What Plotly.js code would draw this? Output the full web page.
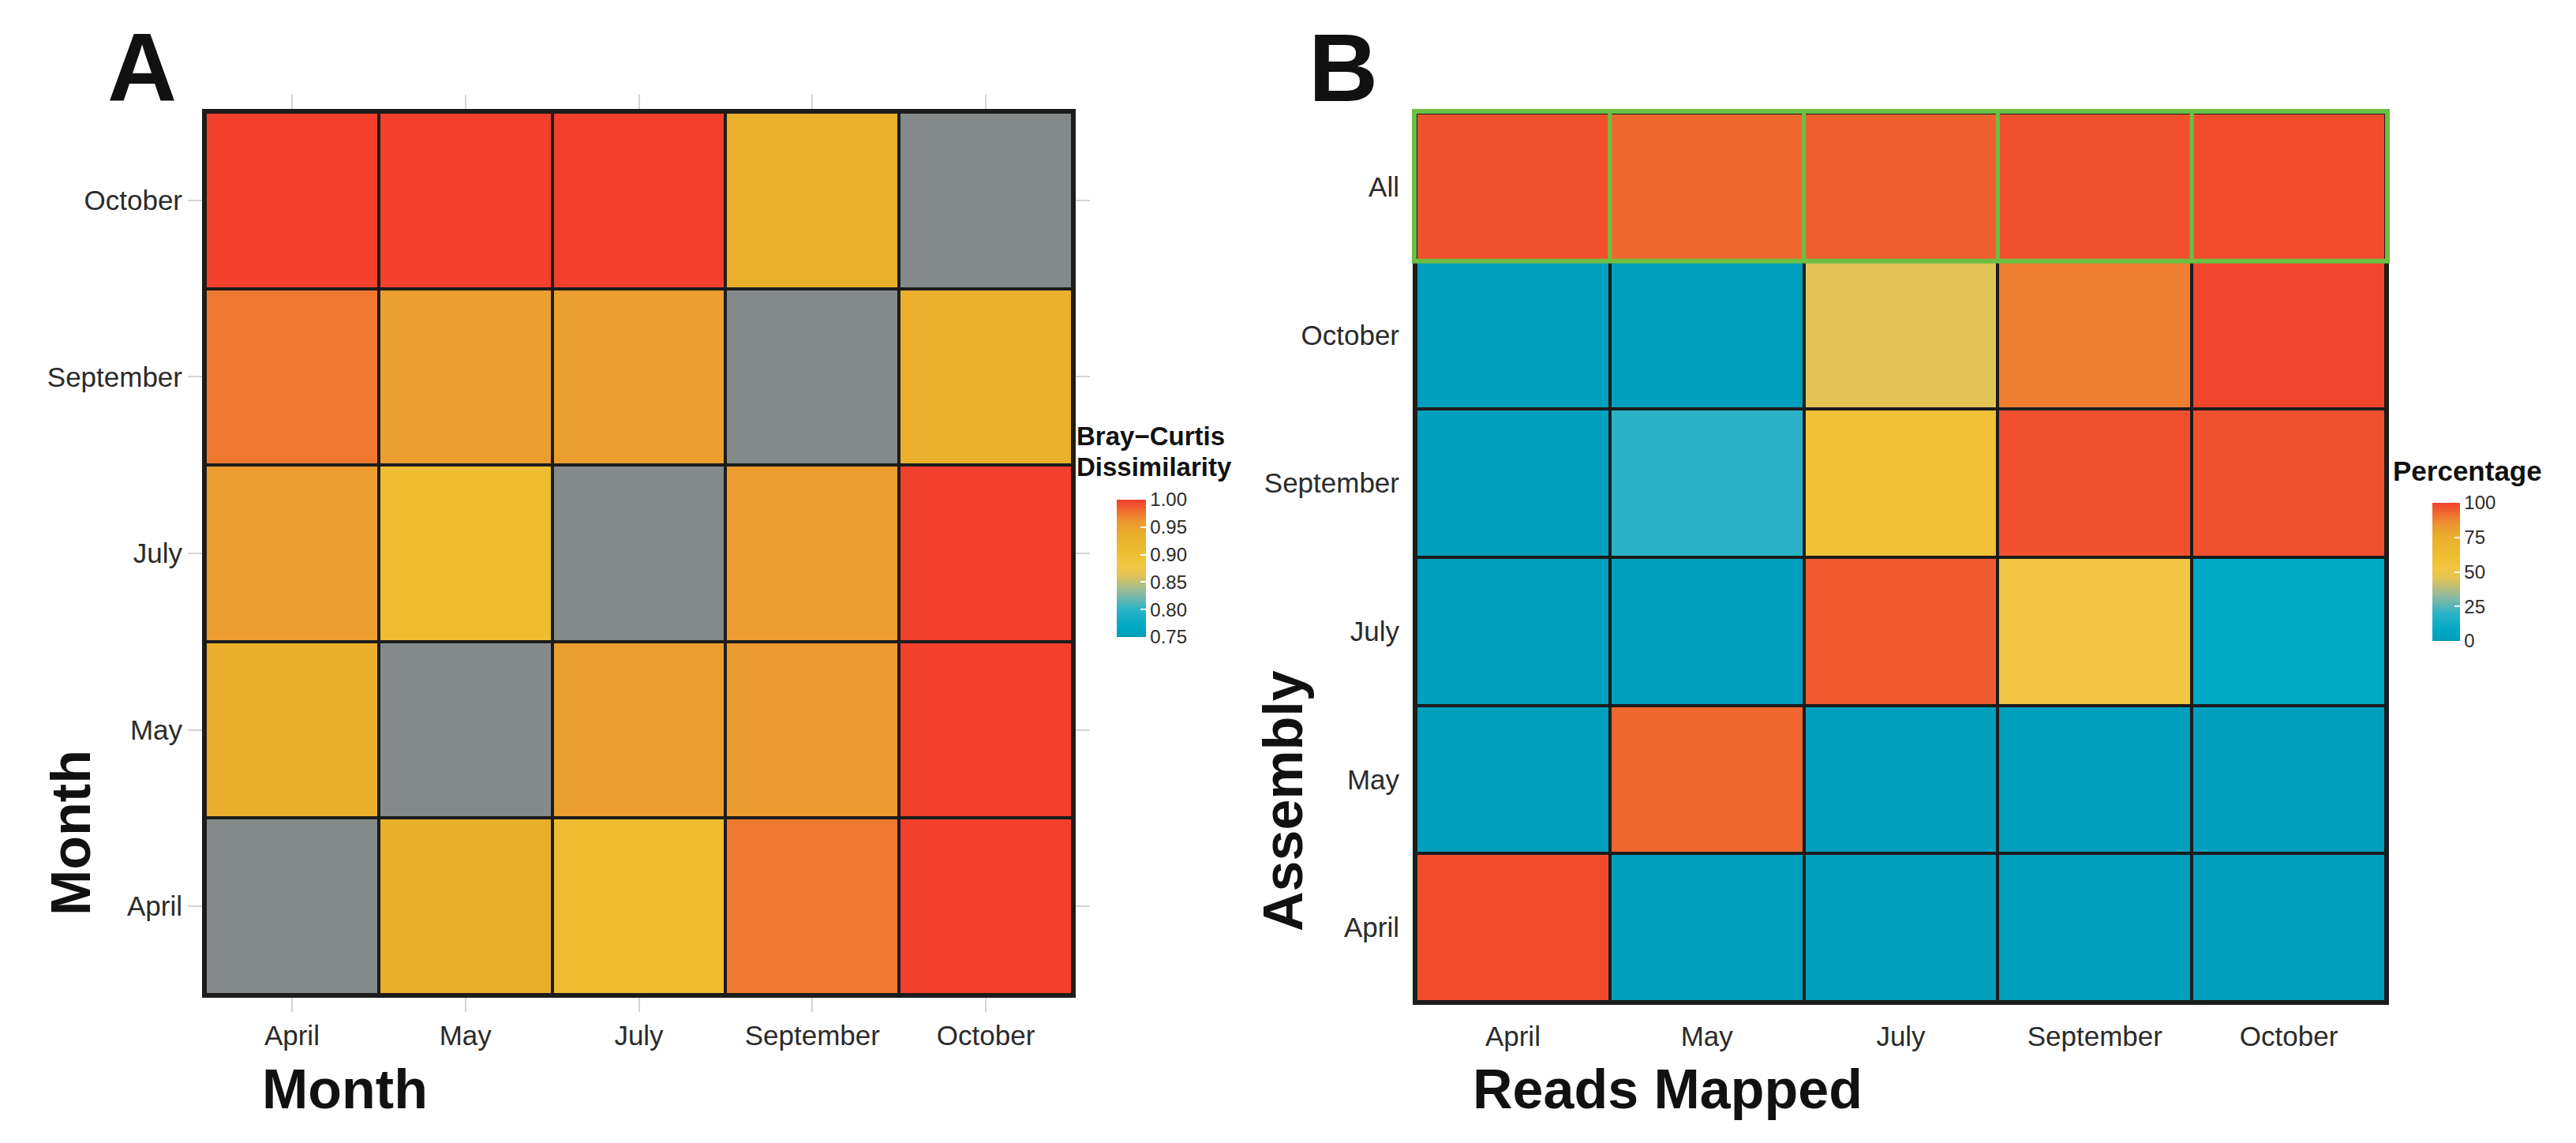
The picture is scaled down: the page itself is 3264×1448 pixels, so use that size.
<!DOCTYPE html>
<html>
<head>
<meta charset="utf-8">
<script src="https://cdn.plot.ly/plotly-3.0.1.min.js"></script>
<style>html,body{margin:0;padding:0;background:#fff;}</style>
</head>
<body>
<div id="chart" style="width:3264px;height:1448px;"></div>
<script>
// ---- data ----
const months = ['April', 'May', 'July', 'September', 'October'];
const assemblies = ['April', 'May', 'July', 'September', 'October', 'All'];

// Bray-Curtis dissimilarity; rows = months (April..October, bottom to top), cols = months; null = same month
const brayApril     = [null, 0.935, 0.905, 0.975, 1.000];
const brayMay       = [0.935, null, 0.955, 0.957, 1.000];
const brayJuly      = [0.955, 0.905, null, 0.955, 1.000];
const braySeptember = [0.975, 0.953, 0.953, null, 0.933];
const brayOctober   = [1.000, 1.000, 1.000, 0.933, null];

// Percentage of reads mapped; rows = assemblies, cols = sample months
const readsApril     = [98, 1, 1, 1, 1];
const readsMay       = [1, 93, 1, 1, 1];
const readsJuly      = [1, 1, 95, 52, 8];
const readsSeptember = [1, 20, 58, 97, 97];
const readsOctober   = [1, 1, 45, 89, 99];
const readsAll       = [97, 93, 94.5, 97, 98];

const brayTicks = [0.75, 0.80, 0.85, 0.90, 0.95, 1.00];
const pctTicks = [0, 25, 50, 75, 100];

// ---- styling ----
const W = 3264, H = 1448;
const FONT = 'Liberation Sans, Arial, Helvetica, sans-serif';
const TXT = '#2b2b2b';
const FRAME = '#1c1c1c';
const GREEN = '#6CBF44';
const scale = [
  [0, '#009DBC'], [0.08, '#00A9C4'], [0.2, '#2AB3C8'], [0.32, '#8DBAA0'],
  [0.45, '#E2C356'], [0.52, '#F2C644'], [0.6, '#EFBF33'], [0.75, '#E9AE2B'],
  [0.83, '#EC9A30'], [0.89, '#EE7E30'], [0.93, '#EE672E'], [0.96, '#F0552E'],
  [1, '#F2402D']
];

const zBray = [brayApril, brayMay, brayJuly, braySeptember, brayOctober];
const zDiag = zBray.map(r => r.map(v => v === null ? 1 : null));
const zReads = [readsApril, readsMay, readsJuly, readsSeptember, readsOctober, readsAll];

const xA = [260 / W, 1359 / W];
const yA = [1 - 1260 / H, 1 - 142 / H];
const xB = [1794 / W, 3023 / W];
const yB = [1 - 1269 / H, 1 - 143 / H];

const traces = [
  {
    type: 'heatmap', x: months, y: months, z: zBray, xaxis: 'x', yaxis: 'y',
    zmin: 0.75, zmax: 1.0, colorscale: scale, xgap: 4, ygap: 4, hoverongaps: false,
    colorbar: {
      x: 1415 / W, xanchor: 'left', xpad: 0, ypad: 0,
      y: 1 - 720 / H, yanchor: 'middle', len: 174, lenmode: 'pixels', thickness: 37,
      outlinewidth: 0, tickvals: brayTicks, tickformat: '.2f',
      ticks: 'inside', ticklen: 7, tickwidth: 2, tickcolor: '#ffffff',
      tickfont: {size: 24, color: TXT, family: FONT}
    }
  },
  {
    type: 'heatmap', x: months, y: months, z: zDiag, xaxis: 'x', yaxis: 'y',
    zmin: 0, zmax: 1, colorscale: [[0, '#848A8A'], [1, '#848A8A']], showscale: false,
    xgap: 4, ygap: 4, hoverongaps: false
  },
  {
    type: 'heatmap', x: months, y: assemblies, z: zReads, xaxis: 'x2', yaxis: 'y2',
    zmin: 0, zmax: 100, colorscale: scale, xgap: 4, ygap: 4,
    colorbar: {
      x: 3082 / W, xanchor: 'left', xpad: 0, ypad: 0,
      y: 1 - 724.5 / H, yanchor: 'middle', len: 175, lenmode: 'pixels', thickness: 35,
      outlinewidth: 0, tickvals: pctTicks,
      ticks: 'inside', ticklen: 7, tickwidth: 2, tickcolor: '#ffffff',
      tickfont: {size: 24, color: TXT, family: FONT}
    }
  }
];

function axA(domain, cats, anchor) {
  return {
    domain: domain, anchor: anchor, type: 'category', categoryorder: 'array', categoryarray: cats,
    range: [-0.5, cats.length - 0.5], showgrid: false, zeroline: false, fixedrange: true,
    showline: true, linecolor: FRAME, linewidth: 4, mirror: 'ticks',
    ticks: 'outside', ticklen: 18, tickwidth: 2, tickcolor: '#d4d4d4',
    tickfont: {size: 35, color: TXT, family: FONT}
  };
}
function axB(domain, cats, anchor) {
  return {
    domain: domain, anchor: anchor, type: 'category', categoryorder: 'array', categoryarray: cats,
    range: [-0.5, cats.length - 0.5], showgrid: false, zeroline: false, fixedrange: true,
    showline: true, linecolor: FRAME, linewidth: 4, mirror: true,
    ticks: 'outside', ticklen: 10, tickwidth: 1, tickcolor: 'rgba(0,0,0,0)',
    tickfont: {size: 35, color: TXT, family: FONT}
  };
}

// green highlight of the "All" row
const allIdx = assemblies.indexOf('All');
const rowH = (yB[1] - yB[0]) / assemblies.length;
const allTop = yB[0] + rowH * (allIdx + 1);
const allBot = yB[0] + rowH * allIdx;
const shapes = [{
  type: 'rect', xref: 'paper', yref: 'paper',
  x0: xB[0] - 2 / W, x1: xB[1] + 2 / W, y0: allBot, y1: allTop + 2 / H,
  line: {color: GREEN, width: 6}, fillcolor: 'rgba(0,0,0,0)', layer: 'above'
}];
for (let i = 1; i < months.length; i++) {
  shapes.push({
    type: 'line', xref: 'x2', yref: 'paper', x0: i - 0.5, x1: i - 0.5, y0: allBot, y1: allTop,
    line: {color: GREEN, width: 5}, layer: 'above'
  });
}

function ann(text, x, y, size, extra) {
  return Object.assign({
    text: text, x: x / W, y: 1 - y / H, xref: 'paper', yref: 'paper', showarrow: false,
    xanchor: 'center', yanchor: 'middle', font: {size: size, color: '#111', family: FONT}
  }, extra || {});
}

const annotations = [
  ann('<b>A</b>', 180, 86, 122),
  ann('<b>B</b>', 1702, 86, 122),
  ann('<b>Month</b>', 437, 1380, 70),
  ann('<b>Reads Mapped</b>', 2113, 1380, 70),
  ann('<b>Month</b>', 90, 1055, 70, {textangle: -90}),
  ann('<b>Assembly</b>', 1626, 1015, 70, {textangle: -90}),
  ann('<b>Bray\u2212Curtis</b>', 1362, 553, 33, {xanchor: 'left'}),
  ann('<b>Dissimilarity</b>', 1362, 591, 33, {xanchor: 'left'}),
  ann('<b>Percentage</b>', 3030, 596, 35, {xanchor: 'left'})
];

const layout = {
  width: W, height: H, margin: {l: 0, r: 0, t: 0, b: 0},
  paper_bgcolor: '#ffffff', plot_bgcolor: FRAME,
  font: {family: FONT, color: TXT},
  showlegend: false,
  xaxis: axA(xA, months, 'y'),
  yaxis: axA(yA, months, 'x'),
  xaxis2: axB(xB, months, 'y2'),
  yaxis2: axB(yB, assemblies, 'x2'),
  shapes: shapes,
  annotations: annotations
};

Plotly.newPlot('chart', traces, layout, {displayModeBar: false, staticPlot: true});
</script>
</body>
</html>
